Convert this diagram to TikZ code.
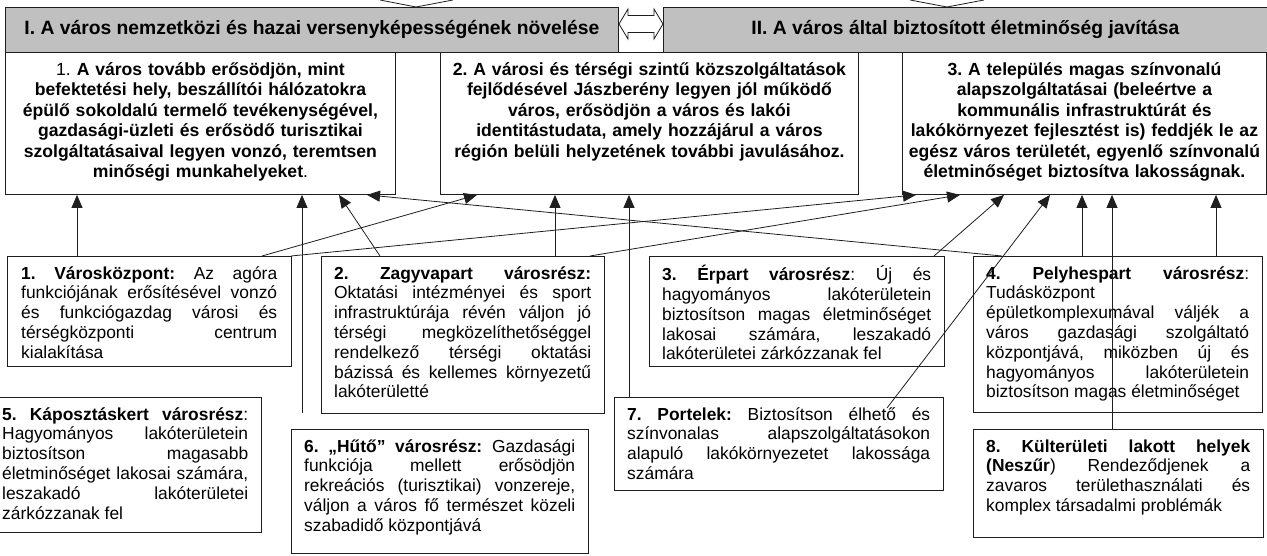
\documentclass[tikz,border=0pt]{standalone}
\usepackage{fontspec}
\setmainfont{Liberation Sans}
\usetikzlibrary{arrows.meta,positioning,calc}
\definecolor{headgray}{RGB}{192,192,192}
\definecolor{lineblk}{RGB}{30,30,30}
\setlength{\parindent}{0pt}
\frenchspacing
\tolerance=10000 \hbadness=10000 \hyphenpenalty=10000
\newcommand{\lowfont}{\fontsize{17.4}{19.8}\selectfont}
\newcommand{\goalfont}{\fontsize{17.6}{20.4}\selectfont\bfseries}
\newcommand{\headfont}{\fontsize{19.3}{22}\selectfont\bfseries}

\begin{document}
\begin{tikzpicture}[x=1pt,y=-1pt,
  frame/.style n args={2}{draw=lineblk,line width=0.9pt,fill=white,anchor=north west,
                          inner sep=0pt,minimum width=#1,minimum height=#2},
  goaltxt/.style={anchor=north,text width=#1,align=center,inner sep=0pt,font=\goalfont,
                  execute at begin node=\strut},
  lowtxt/.style={anchor=north west,text width=#1,align=justify,inner sep=0pt,font=\lowfont,
                 execute at begin node=\strut},
  arr/.style={draw=lineblk,line width=0.8pt,-{Triangle[length=13pt,width=11pt]}}]
\useasboundingbox (0,0) rectangle (1267,556);
\clip (0,0) rectangle (1267,556);

% the two main aims
\node[frame={613}{45},fill=headgray,font=\headfont] (H1) at (5,7)
  {I. A város nemzetközi és hazai versenyképességének növelése};
\node[frame={604}{45},fill=headgray,font=\headfont] (H2) at (663,7)
  {II. A város által biztosított életminőség javítása};
\draw[lineblk,line width=0.8pt,fill=white] (619,24) -- (628,9) -- (628,15.5) -- (654,15.5)
  -- (654,9) -- (663,24) -- (654,39) -- (654,32.5) -- (628,32.5) -- (628,39) -- cycle;
\draw[lineblk,line width=0.8pt] (380,0) -- (416,7) -- (453,0);   % cut arrow tips
\draw[lineblk,line width=0.8pt] (910,0) -- (947,7) -- (984,0);

% goals
\node[frame={390}{142}] (G1) at (5,52) {};
\node[goaltxt=380] (G1t) at ([yshift=-9pt]G1.north)
  {{\mdseries 1.} A város tovább erősödjön, mint\\ befektetési hely, beszállítói hálózatokra\\
   épülő sokoldalú termelő tevékenységével,\\ gazdasági-üzleti és erősödő turisztikai\\
   szolgáltatásaival legyen vonzó, teremtsen\\ minőségi munkahelyeket{\mdseries .}};
\node[frame={418}{142}] (G2) at (440,52) {};
\node[goaltxt=405] (G2t) at ([yshift=-9pt]G2.north)
  {2. A városi és térségi szintű közszolgáltatások\\ fejlődésével Jászberény legyen jól működő\\
   város, erősödjön a város és lakói\\ identitástudata, amely hozzájárul a város\\
   régión belüli helyzetének további javulásához.};
\node[frame={364}{142}] (G3) at (902,52) {};
\node[goaltxt=358] (G3t) at ([yshift=-9pt]G3.north)
  {3. A település magas színvonalú\\ alapszolgáltatásai (beleértve a\\
   kommunális infrastruktúrát és\\ lakókörnyezet fejlesztést is) feddjék le az\\
   egész város területét, egyenlő színvonalú\\ életminőséget biztosítva lakosságnak.};

% city districts
\node[frame={284}{110}] (L1) at (7,256) {};
\node[lowtxt=256] (L1t) at ([shift={(14pt,-9pt)}]L1.north west)
  {\textbf{1. Városközpont:} Az agóra\linebreak funkciójának erősítésével vonzó\linebreak
   és funkciógazdag városi és\linebreak térségközponti centrum\linebreak kialakítása};
\node[frame={283}{157}] (L2) at (321,256) {};
\node[lowtxt=257] (L2t) at ([shift={(13pt,-9pt)}]L2.north west)
  {\textbf{2. Zagyvapart városrész:}\linebreak Oktatási intézményei és sport\linebreak
   infrastruktúrája révén váljon jó\linebreak térségi megközelíthetőséggel\linebreak
   rendelkező térségi oktatási\linebreak bázissá és kellemes környezetű\linebreak lakóterületté};
\node[frame={295}{110}] (L3) at (649,256) {};
\node[lowtxt=269] (L3t) at ([shift={(13pt,-9pt)}]L3.north west)
  {\textbf{3. Érpart városrész}: Új és\linebreak hagyományos lakóterületein\linebreak
   biztosítson magas életminőséget\linebreak lakosai számára, leszakadó\linebreak
   lakóterületei zárkózzanak fel};
\node[frame={289}{156}] (L4) at (973,256) {};
\node[lowtxt=263] (L4t) at ([shift={(13pt,-9pt)}]L4.north west)
  {\textbf{4. Pelyhespart városrész}:\linebreak Tudásközpont\linebreak
   épületkomplexumával váljék a\linebreak város gazdasági szolgáltató\linebreak
   központjává, miközben új és\linebreak hagyományos lakóterületein\linebreak
   biztosítson magas életminőséget};
\node[frame={272}{135}] (L5) at (-11,397) {};
\node[lowtxt=246] (L5t) at ([shift={(13pt,-9pt)}]L5.north west)
  {\textbf{5. Káposztáskert városrész}:\linebreak Hagyományos lakóterületein\linebreak
   biztosítson magasabb\linebreak életminőséget lakosai számára,\linebreak
   leszakadó lakóterületei\linebreak zárkózzanak fel};
\node[frame={297}{124}] (L6) at (291,429) {};
\node[lowtxt=271] (L6t) at ([shift={(13pt,-9pt)}]L6.north west)
  {\textbf{6. „Hűtő” városrész:} Gazdasági\linebreak funkciója mellett erősödjön\linebreak
   rekreációs (turisztikai) vonzereje,\linebreak váljon a város fő természet közeli\linebreak
   szabadidő központjává};
\node[frame={329}{93}] (L7) at (614,397) {};
\node[lowtxt=303] (L7t) at ([shift={(13pt,-9pt)}]L7.north west)
  {\textbf{7. Portelek:} Biztosítson élhető és\linebreak színvonalas alapszolgáltatásokon\linebreak
   alapuló lakókörnyezetet lakossága\linebreak számára};
\node[frame={290}{108}] (L8) at (973,429) {};
\node[lowtxt=264] (L8t) at ([shift={(13pt,-9pt)}]L8.north west)
  {\textbf{8. Külterületi lakott helyek}\linebreak \textbf{(Neszűr})  Rendeződjenek a\linebreak
   zavaros területhasználati és\linebreak komplex társadalmi problémák};

% links district -> goal
\foreach \s/\sx/\t/\tx in {L1/70/G1/72, L2/59/G1/334, L4/29/G1/362,
                           L1/255/G2/37, L2/234/G2/115, L7/15/G2/189,
                           L1/284/G3/14, L2/269/G3/58, L3/285/G3/102,
                           L4/109/G3/180, L8/139/G3/210, L4/243/G3/314}
  \draw[arr] ([xshift=\sx pt]\s.north west) -- ([xshift=\tx pt]\t.south west);
\draw[arr,shorten <=16pt] ([xshift=11pt]L6.north west) -- ([xshift=297pt]G1.south west);
\draw[arr] ([shift={(273pt,-11pt)}]L7.north west) -- ([xshift=148pt]G3.south west);
\end{tikzpicture}
\end{document}
